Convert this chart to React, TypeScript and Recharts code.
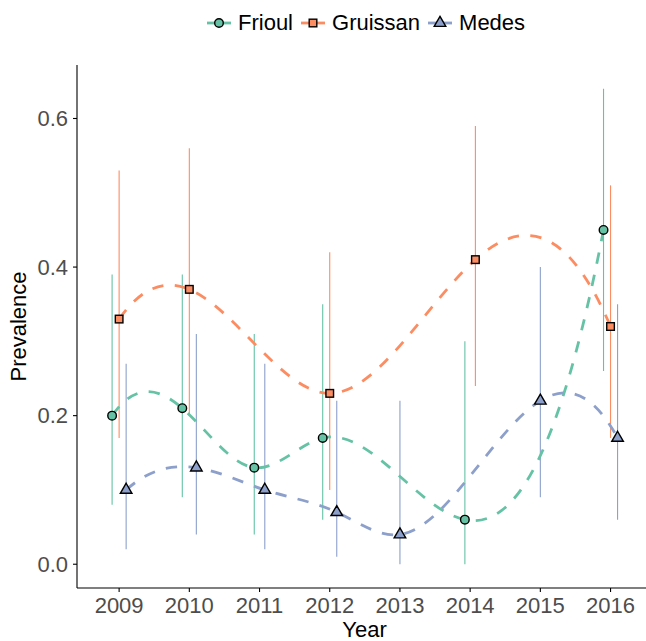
import React from 'react';
import { ComposedChart, Line, Scatter, XAxis, YAxis, ErrorBar, Legend } from 'recharts';

const seriesNames = ['Frioul', 'Gruissan', 'Medes'];
const seriesColors = ['#66C2A5', '#FC8D62', '#8DA0CB'];
const seriesShapes = ['circle', 'square', 'triangle'];
const yearTicks = [2009, 2010, 2011, 2012, 2013, 2014, 2015, 2016];
const prevTicks = [0, 0.2, 0.4, 0.6];

const frioulYears = [2009, 2010, 2011, 2012, 2014, 2016];
const frioulPrev = [0.2, 0.21, 0.13, 0.17, 0.06, 0.45];
const frioulLow = [0.08, 0.09, 0.04, 0.06, 0.0, 0.26];
const frioulHigh = [0.39, 0.39, 0.31, 0.35, 0.3, 0.64];

const gruissanYears = [2009, 2010, 2012, 2014, 2016];
const gruissanPrev = [0.33, 0.37, 0.23, 0.41, 0.32];
const gruissanLow = [0.17, 0.2, 0.1, 0.24, 0.17];
const gruissanHigh = [0.53, 0.56, 0.42, 0.59, 0.51];

const medesYears = [2009, 2010, 2011, 2012, 2013, 2015, 2016];
const medesPrev = [0.1, 0.13, 0.1, 0.07, 0.04, 0.22, 0.17];
const medesLow = [0.02, 0.04, 0.02, 0.01, 0.0, 0.09, 0.06];
const medesHigh = [0.27, 0.31, 0.27, 0.22, 0.22, 0.4, 0.35];

const raw = [
  { years: frioulYears, prev: frioulPrev, low: frioulLow, high: frioulHigh },
  { years: gruissanYears, prev: gruissanPrev, low: gruissanLow, high: gruissanHigh },
  { years: medesYears, prev: medesPrev, low: medesLow, high: medesHigh },
];

// position_dodge(width = 0.3) among the sites present in a given year
const dodgeWidth = 0.3;
const dodged = (idx: number) => {
  const s = raw[idx];
  return s.years.map((yr, i) => {
    const present = raw.map((r, j) => (r.years.includes(yr) ? j : -1)).filter((j) => j >= 0);
    const k = present.indexOf(idx);
    const x = yr - dodgeWidth / 2 + (dodgeWidth / present.length) * (k + 0.5);
    return { x, prev: s.prev[i], err: [s.prev[i] - s.low[i], s.high[i] - s.prev[i]] };
  });
};
const seriesData = seriesNames.map((_, i) => dodged(i));

// interpolating cubic spline y(x) with FMM end conditions (like R's spline()), as a curve factory
const fmmSpline = (context: any) => {
  let xs: number[] = [];
  let ys: number[] = [];
  return {
    areaStart() {},
    areaEnd() {},
    lineStart() {
      xs = [];
      ys = [];
    },
    point(x: number, y: number) {
      xs.push(+x);
      ys.push(+y);
    },
    lineEnd() {
      const n = xs.length;
      if (!n) return;
      context.moveTo(xs[0], ys[0]);
      if (n < 3) {
        if (n === 2) context.lineTo(xs[1], ys[1]);
        return;
      }
      const x = xs, y = ys, nm1 = n - 1;
      const b = new Array(n).fill(0), c = new Array(n).fill(0), d = new Array(n).fill(0);
      d[0] = x[1] - x[0];
      c[1] = (y[1] - y[0]) / d[0];
      for (let i = 1; i < nm1; i++) {
        d[i] = x[i + 1] - x[i];
        b[i] = 2 * (d[i - 1] + d[i]);
        c[i + 1] = (y[i + 1] - y[i]) / d[i];
        c[i] = c[i + 1] - c[i];
      }
      b[0] = -d[0];
      b[nm1] = -d[n - 2];
      c[0] = c[nm1] = 0;
      if (n > 3) {
        c[0] = c[2] / (x[3] - x[1]) - c[1] / (x[2] - x[0]);
        c[nm1] = c[n - 2] / (x[nm1] - x[n - 3]) - c[n - 3] / (x[n - 2] - x[n - 4]);
        c[0] = (c[0] * d[0] * d[0]) / (x[3] - x[0]);
        c[nm1] = (-c[nm1] * d[n - 2] * d[n - 2]) / (x[nm1] - x[n - 4]);
      }
      for (let i = 1; i <= nm1; i++) {
        const t = d[i - 1] / b[i - 1];
        b[i] -= t * d[i - 1];
        c[i] -= t * c[i - 1];
      }
      c[nm1] /= b[nm1];
      for (let i = n - 2; i >= 0; i--) c[i] = (c[i] - d[i] * c[i + 1]) / b[i];
      for (let i = 0; i < nm1; i++) {
        const h = x[i + 1] - x[i];
        const bi = (y[i + 1] - y[i]) / h - h * (c[i + 1] + 2 * c[i]);
        const di = (c[i + 1] - c[i]) / h;
        const ci = 3 * c[i];
        const s1 = bi + 2 * ci * h + 3 * di * h * h;
        context.bezierCurveTo(x[i] + h / 3, y[i] + (bi * h) / 3, x[i + 1] - h / 3, y[i + 1] - (s1 * h) / 3, x[i + 1], y[i + 1]);
      }
    },
  };
};

const R = 4.3;
const Marker = ({ kind, cx, cy, fill }: { kind: string; cx: number; cy: number; fill: string }) => {
  if (kind === 'circle') return <circle cx={cx} cy={cy} r={R} fill={fill} stroke="#000" strokeWidth={1.4} />;
  if (kind === 'square') {
    const h = 0.886 * R;
    return <rect x={cx - h} y={cy - h} width={2 * h} height={2 * h} fill={fill} stroke="#000" strokeWidth={1.4} />;
  }
  const pts = `${cx},${cy - 1.555 * R} ${cx + 1.347 * R},${cy + 0.778 * R} ${cx - 1.347 * R},${cy + 0.778 * R}`;
  return <polygon points={pts} fill={fill} stroke="#000" strokeWidth={1.4} />;
};

const LegendRow = () => (
  <div style={{ display: 'flex', alignItems: 'center', height: 40, paddingTop: 5, boxSizing: 'border-box', paddingLeft: 207, fontSize: 22, color: '#000' }}>
    {seriesNames.map((name, i) => (
      <React.Fragment key={name}>
        <svg width={24} height={20} style={{ display: 'block' }}>
          <line x1={0} x2={24} y1={10} y2={10} stroke={seriesColors[i]} strokeWidth={2.8} />
          <Marker kind={seriesShapes[i]} cx={12} cy={10} fill={seriesColors[i]} />
        </svg>
        <span style={{ marginLeft: 7, marginRight: 8 }}>{name}</span>
      </React.Fragment>
    ))}
  </div>
);

const axisStyle = { stroke: '#000', strokeWidth: 1.1 };
const tickStyle = { fill: '#4D4D4D', fontSize: 22 };

export default function App() {
  return (
    <div style={{ position: 'absolute', left: 0, top: 0, fontFamily: '"Liberation Sans", Arial, sans-serif' }}>
      <ComposedChart width={646} height={641} margin={{ top: 25, right: 0, bottom: 0, left: 0 }}>
        <XAxis
          type="number"
          dataKey="x"
          domain={[2008.4, 2016.505]}
          allowDataOverflow
          ticks={yearTicks}
          height={53}
          axisLine={axisStyle}
          tickLine={axisStyle}
          tickSize={4}
          tickMargin={5}
          tick={tickStyle}
          label={{
            content: ({ viewBox }: any) => (
              <text x={viewBox.x + 287.5} y={637} textAnchor="middle" fontSize={22} fill="#000">
                Year
              </text>
            ),
          }}
        />
        <YAxis
          type="number"
          domain={[-0.032, 0.672]}
          allowDataOverflow
          ticks={prevTicks}
          tickFormatter={(v: number) => v.toFixed(1)}
          width={77}
          axisLine={axisStyle}
          tickLine={axisStyle}
          tickSize={4}
          tickMargin={5}
          tick={tickStyle}
          label={{
            content: ({ viewBox }: any) => {
              const cx = 26;
              const cy = viewBox.y + viewBox.height / 2;
              return (
                <text x={cx} y={cy} transform={`rotate(-90, ${cx}, ${cy})`} textAnchor="middle" fontSize={22} fill="#000">
                  Prevalence
                </text>
              );
            },
          }}
        />
        <Legend verticalAlign="top" align="left" wrapperStyle={{ top: 0, left: 0, width: 646, height: 40 }} content={() => <LegendRow />} />
        {seriesNames.map((name, i) => (
          <Scatter key={`err-${name}`} data={seriesData[i]} dataKey="prev" shape={() => <g />} legendType="none" isAnimationActive={false}>
            <ErrorBar dataKey="err" direction="y" width={0} stroke={seriesColors[i]} strokeWidth={1.1} isAnimationActive={false} />
          </Scatter>
        ))}
        {seriesNames.map((name, i) => (
          <Line
            key={`line-${name}`}
            data={seriesData[i]}
            dataKey="prev"
            type={fmmSpline as any}
            stroke={seriesColors[i]}
            strokeWidth={2.8}
            strokeDasharray="11.4 11.4"
            dot={false}
            activeDot={false}
            legendType="none"
            isAnimationActive={false}
          />
        ))}
        {seriesNames.map((name, i) => (
          <Scatter
            key={`pt-${name}`}
            name={name}
            data={seriesData[i]}
            dataKey="prev"
            shape={(p: any) => <Marker kind={seriesShapes[i]} cx={p.cx} cy={p.cy} fill={seriesColors[i]} />}
            isAnimationActive={false}
          />
        ))}
      </ComposedChart>
    </div>
  );
}
